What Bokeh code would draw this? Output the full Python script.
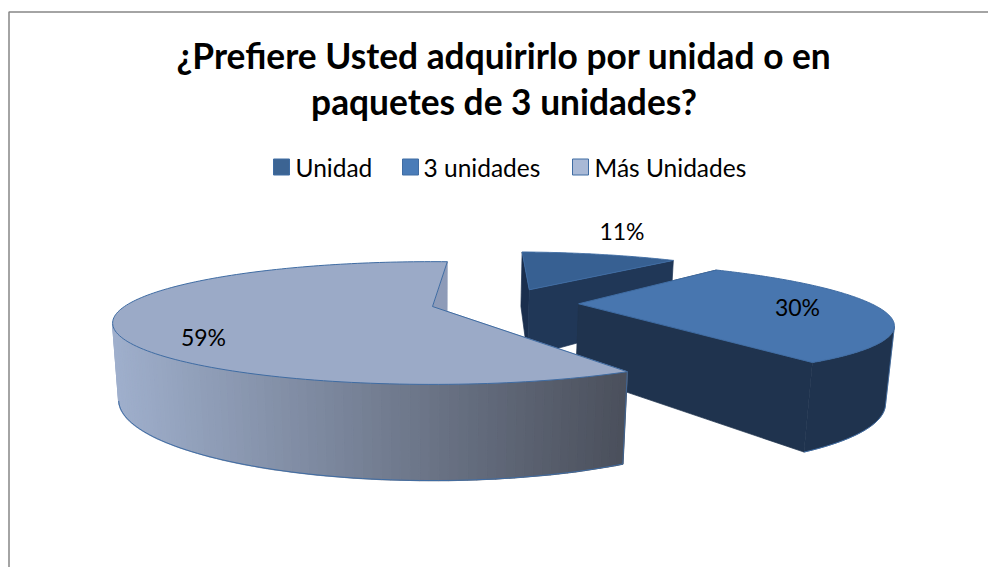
import numpy as np
from bokeh.plotting import figure
from bokeh.models import Range1d
from bokeh.core.properties import value
from bokeh.embed import file_html
from bokeh.resources import INLINE

# --- data
title_lines = ["¿Prefiere Usted adquirirlo por unidad o en", "paquetes de 3 unidades?"]
categories = ["Unidad", "3 unidades", "Más Unidades"]
percent = [11, 30, 59]
labels = ["11%", "30%", "59%"]

# --- style
top_colors = ["#376092", "#4876AF", "#9BAAC7"]
wall_colors = ["#203757", "#1F334E", "#8E9BB8"]
start_cut_colors = ["#1A2E4D", "#1F334E", "#8E9BB8"]
legend_fill = ["#3C6493", "#4A7CB8", "#A9B9D6"]
edge = "#3F6CA3"
FONT = "Lato"

# --- layout (page pixels; 3D-projection constants)
W, H = 988, 567
CX, CY, A, B, Q = 432.0, 306.0, 309.0, 57.1, 0.27
DEPTH, SHRINK = 73.4, 0.018
rotations = [3.0, 1.5, 3.5]
offsets = [(0.34, 0.318), (0.479, 0.048), (0.0, 0.0)]
radii = [0.97, 0.96, 0.997]
label_xy = [(621.5, 230), (797, 306.5), (203, 336.5)]
legend_swatch_x = [281, 410, 580]
legend_text_x = [295, 423, 594]


def project(u, v, d):
    w = 1 + Q * v + SHRINK * d
    return CX + A * u / w, CY + (-B * v + DEPTH * d) / w


def arc(i, a0, a1, n=160):
    t = np.radians(np.linspace(a0, a1, n))
    return offsets[i][0] + radii[i] * np.sin(t), offsets[i][1] + radii[i] * np.cos(t)


p = figure(width=W, height=H, x_range=Range1d(0, W), y_range=Range1d(H, 0),
           toolbar_location=None, output_backend="svg", min_border=0,
           background_fill_color="white", border_fill_color="white", outline_line_color=None)
p.axis.visible = False
p.grid.visible = False

# chart frame
p.line([8.5, 8.5, W], [H, 11.5, 11.5], line_color="#868686", line_width=1.5)

edges = np.cumsum([0] + percent) / sum(percent) * 360
for i in range(len(percent)):
    a0, a1 = edges[i] + rotations[i], edges[i + 1] + rotations[i]
    ou, ov = offsets[i]
    u, v = arc(i, a0, a1)
    # flat cut faces
    for ang, col in ((a0, start_cut_colors[i]), (a1, wall_colors[i])):
        t = np.radians(ang)
        ru, rv = ou + radii[i] * np.sin(t), ov + radii[i] * np.cos(t)
        pts = [project(ou, ov, 0), project(ru, rv, 0), project(ru, rv, 1), project(ou, ov, 1)]
        p.patch([q[0] for q in pts], [q[1] for q in pts], fill_color=col, line_color=col, line_width=0.7)
    # outer wall: only where it faces the viewer
    tt = np.radians(np.linspace(a0, a1, 160))
    vis = (-ou * np.sin(tt) + (-1 / Q - ov) * np.cos(tt)) > radii[i]
    if vis.any():
        xt, yt = project(u[vis], v[vis], 0)
        xb, yb = project(u[vis], v[vis], 1)
        if i == 2:
            polys_x, polys_y, cols = [], [], []
            lo, hi = xt.min(), xt.max()
            c0, c1 = np.array([0x9F, 0xAF, 0xCC]), np.array([0x4A, 0x4F, 0x5B])
            for k in range(len(xt) - 1):
                polys_x.append([xt[k], xt[k + 1], xb[k + 1], xb[k]])
                polys_y.append([yt[k], yt[k + 1], yb[k + 1], yb[k]])
                f = min(1, max(0, ((xt[k] + xt[k + 1]) / 2 - lo) / (hi - lo)))
                c = c0 + (c1 - c0) * f
                cols.append("#%02x%02x%02x" % tuple(int(round(x)) for x in c))
            p.patches(polys_x, polys_y, fill_color=cols, line_color=cols, line_width=1.5)
        else:
            p.patch(np.r_[xt, xb[::-1]], np.r_[yt, yb[::-1]], fill_color=wall_colors[i],
                    line_color=wall_colors[i], line_width=0.5)
        p.line(xb, yb, line_color=edge, line_width=1)
        p.line([xt[0], xb[0]], [yt[0], yb[0]], line_color=edge, line_width=0.8)
    # top face
    tx, ty = project(np.r_[ou, u], np.r_[ov, v], 0)
    p.patch(tx, ty, fill_color=top_colors[i], line_color=edge, line_width=1)

# data labels
p.text([q[0] for q in label_xy], [q[1] for q in label_xy], text=labels, text_font=value(FONT),
       text_font_size="23px", text_color="black", text_align="center", text_baseline="middle")

# title
p.text([503.5, 503.5], [55, 100.5], text=title_lines, text_font=value(FONT), text_font_style="bold",
       text_font_size="35.3px", text_color="black", text_align="center", text_baseline="middle")

# legend
p.scatter(legend_swatch_x, [166.5, 166.5, 166.5], marker="square", size=16, fill_color=legend_fill,
          line_color=edge, line_width=1)
p.text(legend_text_x, [167, 167, 167], text=categories, text_font=value(FONT), text_font_size="24.5px",
       text_color="black", text_align="left", text_baseline="middle")

open("out.html", "w").write(file_html(p, INLINE))
